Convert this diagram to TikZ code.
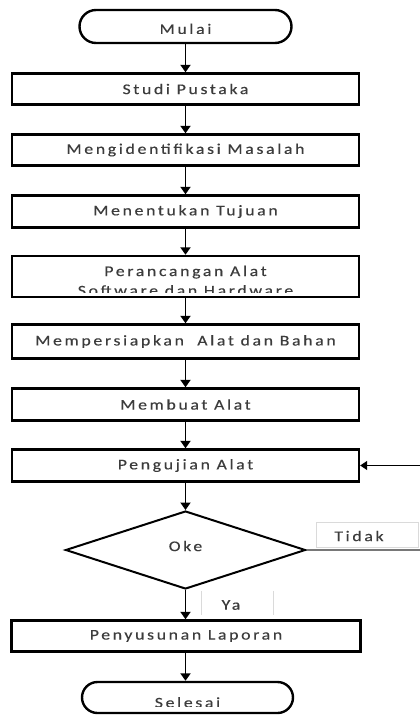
\documentclass[tikz,border=0pt]{standalone}
\usepackage{fontspec}
\usepackage{graphicx}
\setmainfont{Carlito}
\newfontfamily\lblfont{Carlito}[LetterSpace=15,FakeBold=0.3]
\newcommand\wtxt[1]{\scalebox{1.2}[1]{#1}}
\usetikzlibrary{shapes.geometric,shapes.misc,arrows.meta}
\definecolor{txt}{RGB}{60,60,60}
\definecolor{lgray}{RGB}{218,218,218}
\definecolor{mgray}{RGB}{120,120,120}
\begin{document}
\begin{tikzpicture}[x=1pt,y=-1pt,
  lbl/.style={font=\lblfont\fontsize{14.8}{17}\selectfont,text=txt,inner sep=0pt},
  box/.style={draw,line width=2.4pt,minimum width=347pt,inner sep=0pt,lbl},
  term/.style={draw,line width=2.4pt,rounded rectangle,inner sep=0pt},
  arr/.style={line width=1.8pt,-{Triangle[width=10pt,length=7.5pt]}},
]
\useasboundingbox (0,0) rectangle (420,715);
\clip (0,0) rectangle (420,715);
\fill[white] (0,0) rectangle (420,715);

\node[term,minimum width=212pt,minimum height=33pt] (mulai) at (185.5,26.5) {};
\begin{scope}
  \clip (80,10) rectangle (292,33);
  \node[lbl,anchor=base] (mulaitxt) at (185.5,34) {\wtxt{Mulai}};
\end{scope}

\node[box,minimum height=31pt] (studi) at (185.5,89) {\wtxt{Studi Pustaka}};
\node[box,minimum height=31pt] (ident) at (185.5,150) {\wtxt{Mengidentifikasi Masalah}};
\node[box,minimum height=32pt] (tujuan) at (185.5,211.5) {\wtxt{Menentukan Tujuan}};
\node[box,minimum height=41pt] (rancang) at (185.5,276.5) {};
\begin{scope}
  \clip (13,257) rectangle (358,292.5);
  \node[lbl,anchor=base] (rancang1) at (185.5,276) {\wtxt{Perancangan Alat}};
  \node[lbl,anchor=base] (rancang2) at (185.5,295.5) {\wtxt{Software dan Hardware}};
\end{scope}
\node[box,minimum height=34pt] (siap) at (185.5,341.5) {\wtxt{Mempersiapkan\ \ Alat dan Bahan}};
\node[box,minimum height=32pt] (buat) at (185.5,404.5) {\wtxt{Membuat Alat}};
\node[box,minimum height=32pt] (uji) at (185.5,465.5) {\wtxt{Pengujian Alat}};
\node[diamond,draw,line width=2pt,aspect=3,minimum width=240pt,minimum height=78pt,inner sep=0pt] (oke) at (185.5,550) {};
\node[lbl] (oketxt) at (185.5,546) {\wtxt{Oke}};
\node[box,minimum width=349pt,minimum height=31pt] (lapor) at (186,636) {\wtxt{Penyusunan Laporan}};
\node[term,minimum width=211pt,minimum height=31pt] (selesai) at (187.5,697.5) {};
\begin{scope}
  \clip (84,684) rectangle (292,706);
  \node[lbl,anchor=base] (selesaitxt) at (187.5,707.5) {\wtxt{Selesai}};
\end{scope}

% labels Tidak / Ya
\node[draw=lgray,line width=1pt,minimum width=102pt,minimum height=25pt,inner sep=0pt] (tidakbox) at (367,534.5) {};
\node[lbl] (tidak) at (359,536) {\wtxt{Tidak}};
\node[minimum width=71pt,minimum height=24pt,inner sep=0pt] (yabox) at (237.5,603) {};
\draw[lgray,line width=1pt] (yabox.north west) -- (yabox.south west)
                            (yabox.north east) -- (yabox.south east);
\node[lbl] (ya) at (231,605) {\wtxt{Ya}};

% connectors
\draw[arr] (mulai) -- (studi);
\draw[arr] (studi) -- (ident);
\draw[arr] (ident) -- (tujuan);
\draw[arr] (tujuan) -- (rancang);
\draw[arr] (rancang) -- (siap);
\draw[arr] (siap) -- (buat);
\draw[arr] (buat) -- (uji);
\draw[arr] (uji) -- (oke);
\draw[arr] (oke.south) -- (oke.south |- lapor.north);
\draw[arr] (lapor.south -| oke.south) -- (selesai.north -| oke.south);

\coordinate (r1) at (422,550);
\coordinate (r2) at (422,465.5);
\draw[mgray,line width=1.3pt] (oke.east) -- (r1);
\draw[line width=1.2pt,-{Triangle[width=9pt,length=7pt]}] (r2) -- (uji.east);
\end{tikzpicture}
\end{document}
